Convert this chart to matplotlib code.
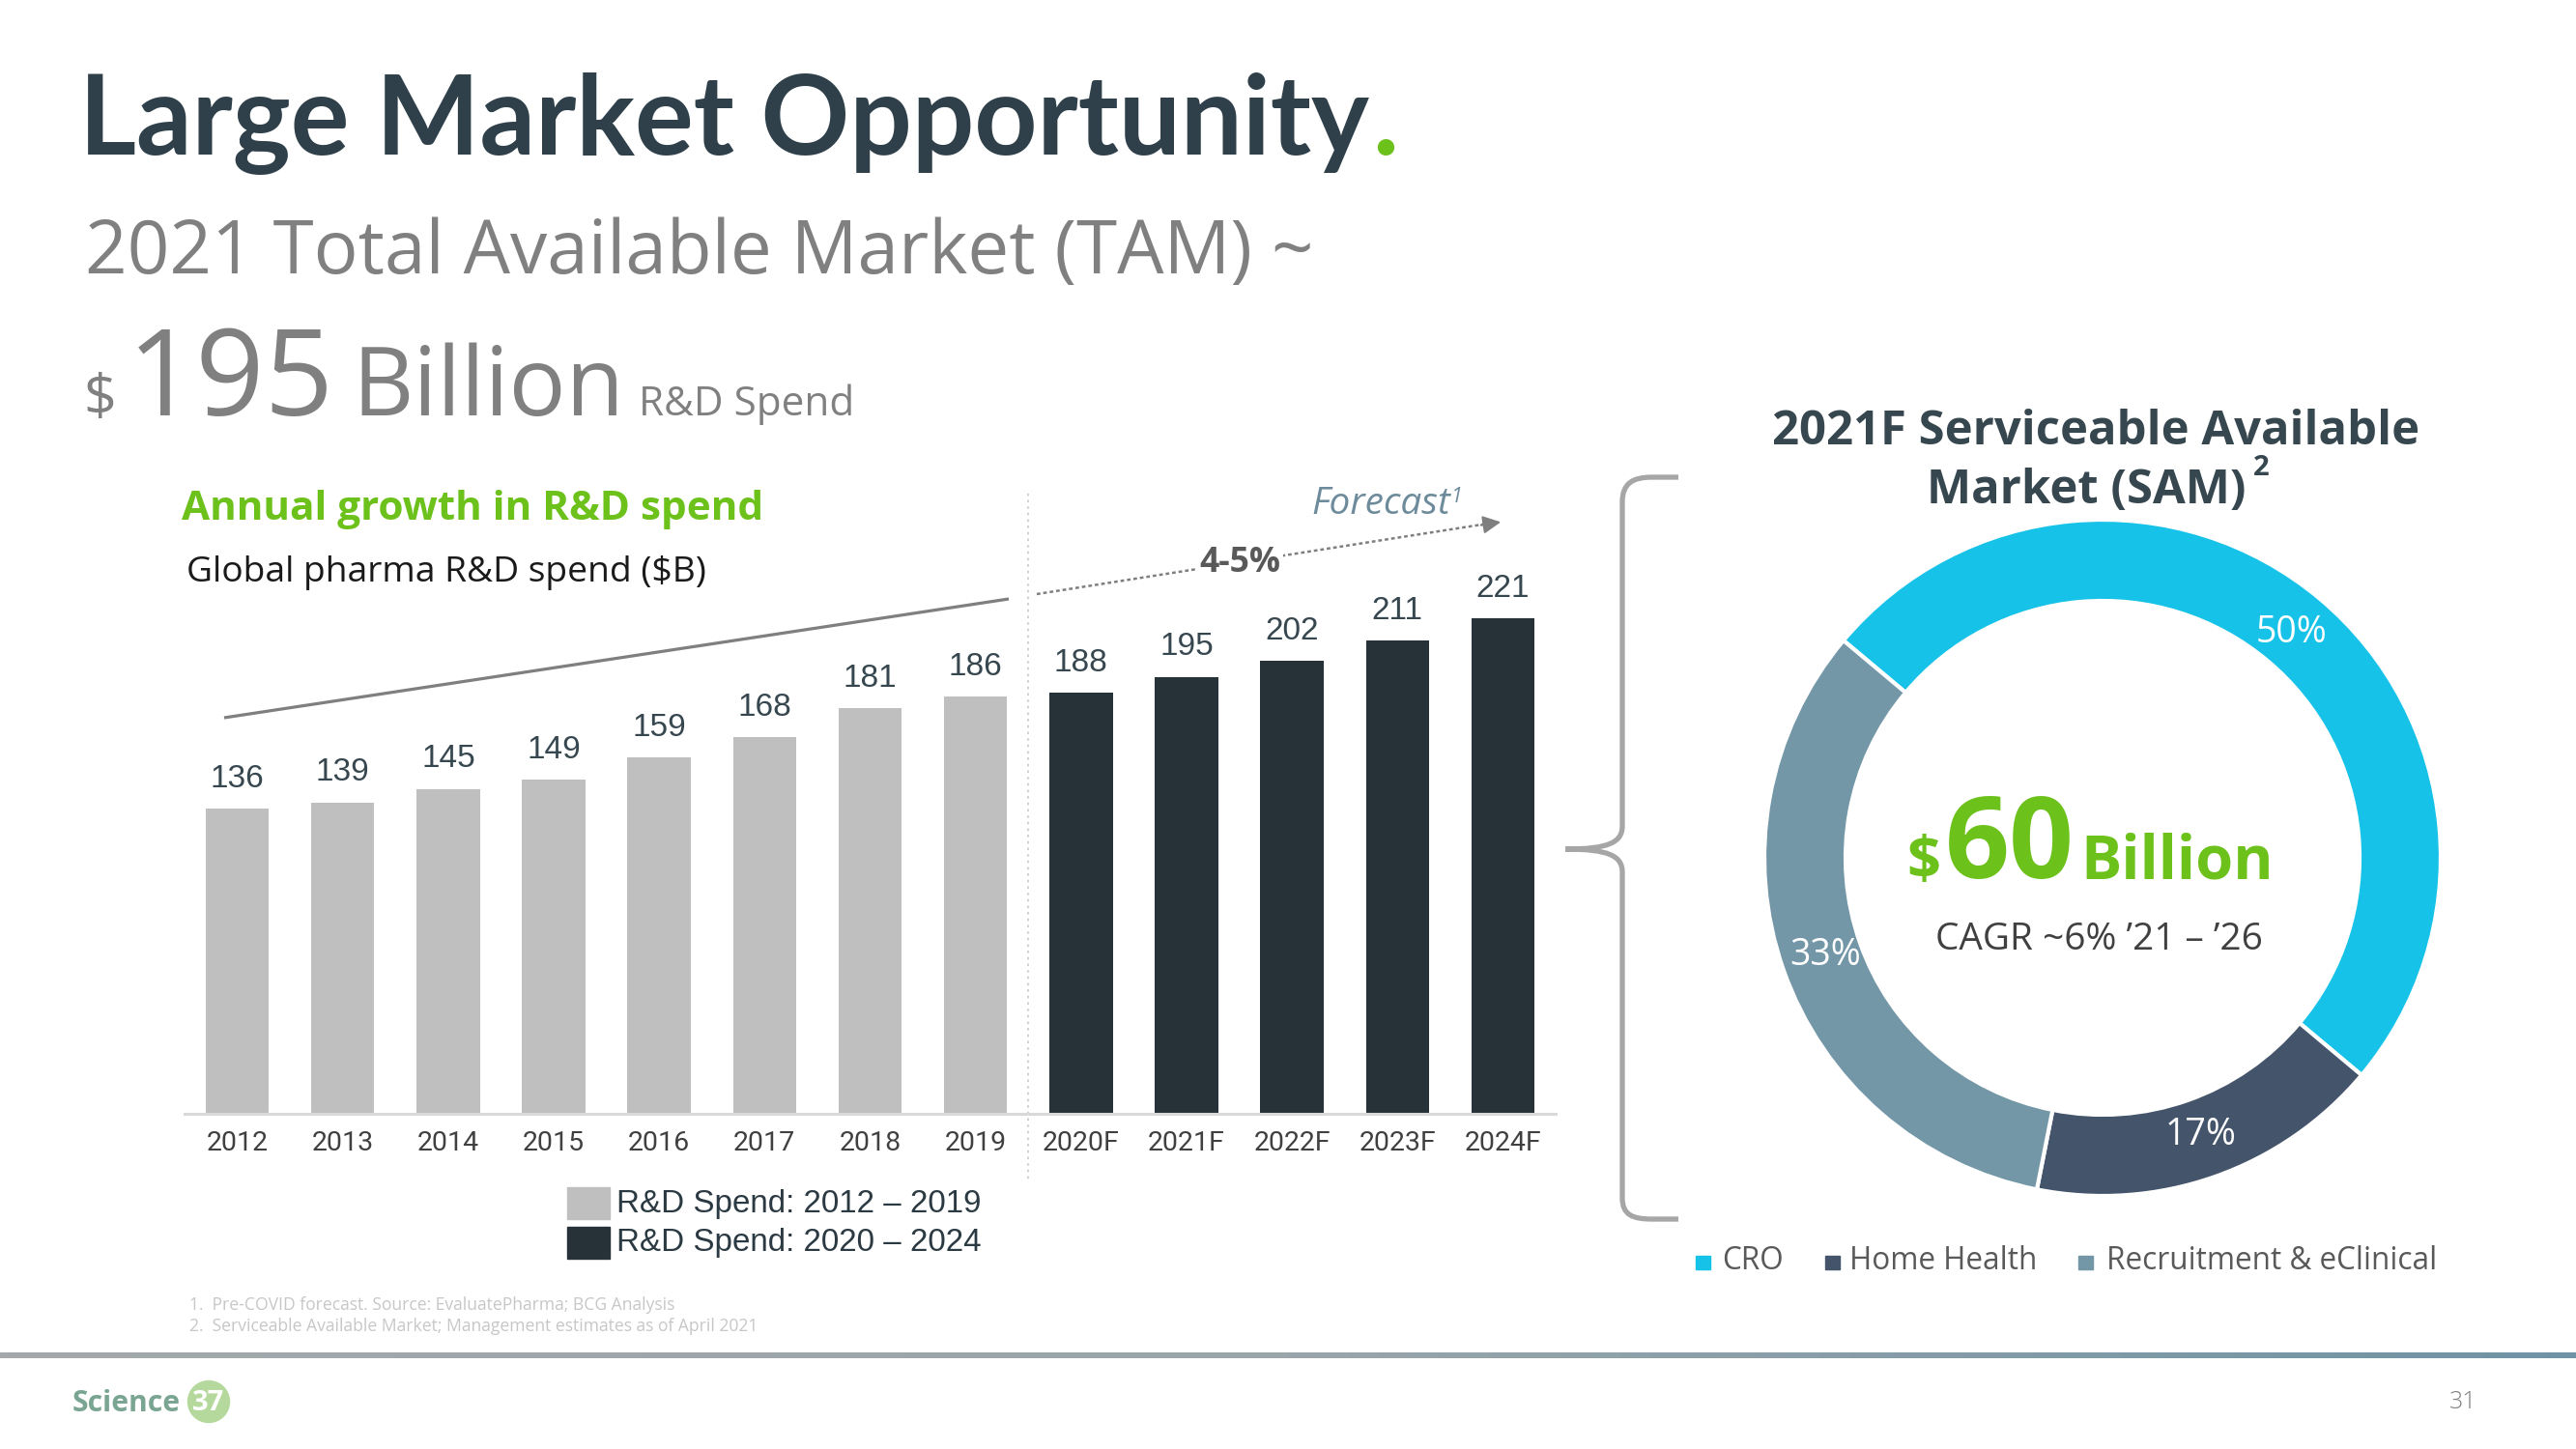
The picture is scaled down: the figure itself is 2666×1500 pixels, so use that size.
import matplotlib
matplotlib.use("Agg")
import matplotlib.pyplot as plt
import numpy as np
from matplotlib.patches import Rectangle, Circle, PathPatch
from matplotlib.path import Path
from matplotlib.colors import LinearSegmentedColormap

W, H, DPI = 2666, 1500, 100

# Global pharma R&D spend ($B)
years = ["2012", "2013", "2014", "2015", "2016", "2017", "2018", "2019",
         "2020F", "2021F", "2022F", "2023F", "2024F"]
spend = [136, 139, 145, 149, 159, 168, 181, 186, 188, 195, 202, 211, 221]
n_actual = 8  # 2012-2019, the rest is forecast
period_labels = ["R&D Spend: 2012 – 2019", "R&D Spend: 2020 – 2024"]
period_colors = ["#bfbfbf", "#263238"]

# 2021F serviceable available market split
sam_labels = ["CRO", "Home Health", "Recruitment & eClinical"]
sam_share = [50, 17, 33]
sam_colors = ["#17c2e8", "#44546a", "#7397a7"]

footnotes = ["1.  Pre-COVID forecast. Source: EvaluatePharma; BCG Analysis",
             "2.  Serviceable Available Market; Management estimates as of April 2021"]

TITLE_C = "#2f404b"
GREEN = "#6cc11b"
GREY_TXT = "#808080"
SANS = "Open Sans"

fig = plt.figure(figsize=(W / DPI, H / DPI), dpi=DPI)
fig.patch.set_facecolor("white")


def px_axes(left, top, width, height):
    return fig.add_axes([left / W, 1 - (top + height) / H, width / W, height / H])


# page overlay in pixel coordinates (y down)
ov = px_axes(0, 0, W, H)
ov.axis("off")
ov.set_xlim(0, W)
ov.set_ylim(H, 0)

fig.canvas.draw()
renderer = fig.canvas.get_renderer()


def put(x, y, s, width=None, size=20, ha="left", va="baseline", family=SANS, **kw):
    t = ov.text(x, y, s, fontsize=size, ha=ha, va=va, family=family, **kw)
    if width:
        w = t.get_window_extent(renderer).width
        t.set_fontsize(size * width / w)
    return t


def right_edge(t):
    return t.get_window_extent(renderer).x1


# ---- header ----
t = put(82, 160, "Large Market Opportunity", width=1336, size=75, family="Lato",
        weight="bold", color=TITLE_C)
put(right_edge(t) + 3, 160, ".", size=t.get_fontsize(), family="Lato", weight="bold", color=GREEN)

put(88, 283, "2021 Total Available Market (TAM) ~", width=1272, size=52, color=GREY_TXT)
put(86, 430, "$", width=34, size=50, color=GREY_TXT)
put(132, 430, "195", width=214, size=90, color=GREY_TXT)
put(364, 430, "Billion", width=282, size=75, color=GREY_TXT)
put(661, 430, "R&D Spend", width=223, size=33, color=GREY_TXT)

# ---- bar chart ----
put(188, 538, "Annual growth in R&D spend", width=604, size=30, weight="bold", color=GREEN)
put(193, 602, "Global pharma R&D spend ($B)", width=539, size=24, color="#1a1a1a")

ax = px_axes(191, 573, 1419, 580)
x = np.arange(len(years))
bar_colors = [period_colors[0] if i < n_actual else period_colors[1] for i in range(len(years))]
bars = ax.bar(x, spend, width=0.6, color=bar_colors, zorder=2)
ax.bar_label(bars, padding=11, fontsize=24, family="Liberation Sans", color="#37474f")
ax.set_xlim(-0.5, len(years) - 0.5)
ax.set_ylim(0, 250)
ax.set_xticks(x, years)
ax.tick_params(axis="x", length=0, pad=12, labelsize=20.5, labelcolor="#404040")
for lab in ax.get_xticklabels():
    lab.set_family("Roboto")
ax.set_yticks([])
for s in ["top", "left", "right"]:
    ax.spines[s].set_visible(False)
ax.spines["bottom"].set_color("#d9d9d9")
ax.spines["bottom"].set_linewidth(2.2)
ax.set_facecolor("none")
# forecast separator
ax.axvline(n_actual - 0.5, ymin=-29 / 250, ymax=277 / 250, clip_on=False,
           color="#c8c8c8", lw=1.2, ls=(0, (1.5, 2.5)))

# growth trend lines
ov.plot([232, 1044], [743, 620], color="#7f7f7f", lw=2.3, solid_capstyle="butt")
ov.plot([1073, 1540], [615, 542], color="#7f7f7f", lw=1.8, ls=(0, (1.5, 1.2)))
ov.annotate("", xy=(1556, 540), xytext=(1530, 544),
            arrowprops=dict(arrowstyle="-|>", color="#7f7f7f", lw=1.5, mutation_scale=28))
put(1283, 592, "4-5%", width=84, size=22, ha="center", weight="bold", color="#595959",
    bbox=dict(facecolor="white", edgecolor="none", pad=2))
t = put(1357, 532, "Forecast", width=144, size=26, style="italic", color="#6d8b9b")
put(right_edge(t) + 1, 520, "1", size=t.get_fontsize() * 0.55, style="italic", color="#6d8b9b")

# bar legend
leg_size = 24
for i, (lab, col) in enumerate(zip(period_labels, period_colors)):
    top = 1229 + i * 41
    ov.add_patch(Rectangle((587, top), 44, 33, color=col))
    t = put(638, top + 17, lab, width=377 if i == 0 else None, size=leg_size,
            va="center", family="Liberation Sans", color="#2b3a42")
    leg_size = t.get_fontsize()

# footnotes
t2 = put(196, 1378, footnotes[1], width=587, size=12, color="#c7c7c7")
put(196, 1356, footnotes[0], size=t2.get_fontsize(), color="#c7c7c7")

# ---- donut ----
ov.add_patch(PathPatch(Path(
    [(1737, 494), (1710, 494), (1690, 494), (1679, 500), (1679, 520),
     (1679, 855), (1679, 872), (1665, 879), (1620, 879),
     (1665, 879), (1679, 886), (1679, 903),
     (1679, 1240), (1679, 1258), (1690, 1262), (1710, 1262), (1737, 1262)],
    [Path.MOVETO, Path.LINETO, Path.CURVE4, Path.CURVE4, Path.CURVE4,
     Path.LINETO, Path.CURVE4, Path.CURVE4, Path.CURVE4,
     Path.CURVE4, Path.CURVE4, Path.CURVE4,
     Path.LINETO, Path.CURVE4, Path.CURVE4, Path.CURVE4, Path.LINETO]),
    fill=False, edgecolor="#a6a6a6", lw=3.8, capstyle="butt"))

t = put(2169, 460, "2021F Serviceable Available", width=670, size=30, ha="center",
        weight="bold", color="#37474f")
put(2159, 521, "Market (SAM)", size=t.get_fontsize(), ha="center", weight="bold", color="#37474f")
put(2340, 484, "2", size=t.get_fontsize() * 0.6, ha="center", va="center", weight="bold",
    color="#37474f")

pax = px_axes(1826, 538, 700, 700)
pax.pie(sam_share, colors=sam_colors, startangle=140, counterclock=False, radius=1,
        wedgeprops=dict(width=0.24, edgecolor="white", linewidth=3),
        autopct="%d%%", pctdistance=0.87,
        textprops=dict(color="white", fontsize=27, family=SANS))
pax.set_xlim(-1, 1)
pax.set_ylim(-1, 1)

put(1973, 909, "$", width=35, size=40, weight="bold", color=GREEN)
put(2013, 909, "60", width=134, size=90, weight="bold", color=GREEN)
put(2153, 909, "Billion", width=200, size=45, weight="bold", color=GREEN)
put(2172, 983, "CAGR ~6% \u201921 \u2013 \u201926", width=339, size=24, ha="center", color="#404040")

# donut legend
sq_x = [1755, 1889, 2151]
txt_x = [1782, 1914, 2180]
t = put(txt_x[2], 1314, sam_labels[2], width=342, size=22, color="#595959")
for i in range(3):
    ov.add_patch(Rectangle((sq_x[i], 1300), 15, 14, color=sam_colors[i]))
    if i < 2:
        put(txt_x[i], 1314, sam_labels[i], size=t.get_fontsize(), color="#595959")

# ---- footer ----
grad = LinearSegmentedColormap.from_list("band", ["#a4a8aa", "#9aa6ab", "#6f93a5"])
ov.imshow(np.linspace(0, 1, 256)[None, :], cmap=grad, aspect="auto",
          extent=[0, W, 1406, 1400])
put(75, 1461, "Science", width=112, size=24, weight="bold", color="#7aa592")
ov.add_patch(Circle((216, 1451), 21.5, color="#b5d99c"))
put(216, 1452, "37", size=21, ha="center", va="center", weight="bold", color="white")
put(2549, 1452, "31", size=18, ha="center", va="center", color=GREY_TXT, weight="light")

ov.set_xlim(0, W)
ov.set_ylim(H, 0)

fig.savefig("out.png", dpi=DPI)
